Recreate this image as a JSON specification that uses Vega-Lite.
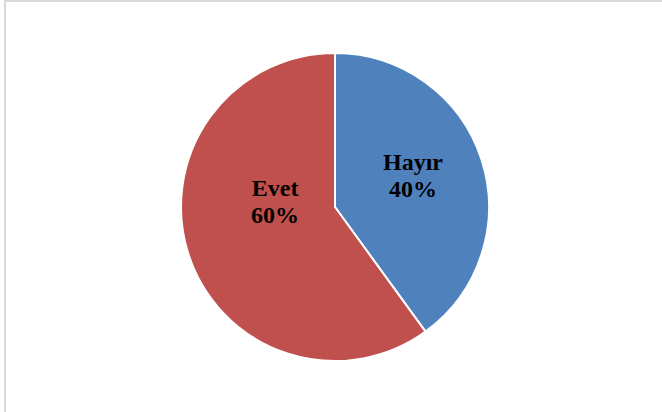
{
  "$schema": "https://vega.github.io/schema/vega-lite/v6.json",
  "width": 660,
  "height": 412,
  "autosize": "none",
  "padding": {"left": 5, "top": 1, "right": 0, "bottom": 0},
  "background": "white",
  "data": {"values": [
    {"cevap": "Hayır", "yuzde": 40},
    {"cevap": "Evet", "yuzde": 60}
  ]},
  "transform": [
    {"calculate": "indexof(['Hayır','Evet'], datum.cevap)", "as": "sira"}
  ],
  "layer": [
    {
      "data": {"values": [{"kenar": 1}]},
      "transform": [],
      "mark": {"type": "rect", "fill": "transparent", "stroke": "#d9d9d9", "strokeWidth": 2}
    },
    {
      "mark": {"type": "arc", "outerRadius": 154, "stroke": "white", "strokeWidth": 2},
      "encoding": {
        "theta": {"field": "yuzde", "type": "quantitative", "stack": true},
        "order": {"field": "sira", "type": "quantitative"},
        "color": {"field": "cevap", "type": "nominal", "scale": {"domain": ["Hayır", "Evet"], "range": ["#4f81bd", "#c0504d"]}, "legend": null}
      }
    },
    {
      "transform": [{"calculate": "datum.cevap == 'Hayır' ? datum.cevap + '\\n' + datum.yuzde + '%' : ''", "as": "etiket"}],
      "mark": {"type": "text", "radius": 82, "dy": -19, "font": "Liberation Serif", "fontWeight": "bold", "fontSize": 24, "lineHeight": 27, "lineBreak": "\n", "baseline": "middle", "align": "center", "color": "black"},
      "encoding": {
        "theta": {"field": "yuzde", "type": "quantitative", "stack": true},
        "order": {"field": "sira", "type": "quantitative"},
        "text": {"field": "etiket", "type": "nominal"}
      }
    },
    {
      "transform": [{"calculate": "datum.cevap == 'Evet' ? datum.cevap + '\\n' + datum.yuzde + '%' : ''", "as": "etiket"}],
      "mark": {"type": "text", "radius": 63, "dy": -37, "font": "Liberation Serif", "fontWeight": "bold", "fontSize": 24, "lineHeight": 27, "lineBreak": "\n", "baseline": "middle", "align": "center", "color": "black"},
      "encoding": {
        "theta": {"field": "yuzde", "type": "quantitative", "stack": true},
        "order": {"field": "sira", "type": "quantitative"},
        "text": {"field": "etiket", "type": "nominal"}
      }
    }
  ]
}
